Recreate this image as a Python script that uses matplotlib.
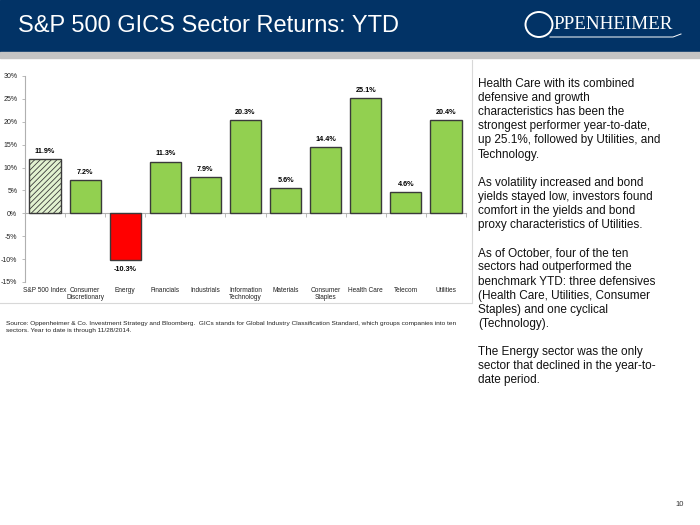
import matplotlib.pyplot as plt
from matplotlib.lines import Line2D
from matplotlib.patches import Rectangle, Ellipse

plt.rcParams['font.family'] = ['Liberation Sans', 'DejaVu Sans']
plt.rcParams['hatch.color'] = '#86c650'
plt.rcParams['hatch.linewidth'] = 0.6

# --- DATA --------------------------- #
sectors = ["S&P 500 Index", "Consumer\nDiscretionary", "Energy", "Financials", "Industrials",
           "Information\nTechnology", "Materials", "Consumer\nStaples", "Health Care",
           "Telecom", "Utilities"]
returns = [11.9, 7.2, -10.3, 11.3, 7.9, 20.3, 5.6, 14.4, 25.1, 4.6, 20.4]
yticks = [-15, -10, -5, 0, 5, 10, 15, 20, 25, 30]
# ------------------------------------ #

fig = plt.figure(figsize=(7, 5.25), dpi=100)

# --- HEADER ------------------------- #
fig.patches.append(Rectangle((0, 1 - 52/525), 1, 52/525, transform=fig.transFigure,
                             color='#023366', zorder=0))
fig.patches.append(Rectangle((0, 1 - 58/525), 1, 6/525, transform=fig.transFigure,
                             color='#c4c4c4', zorder=0))
fig.text(18/700, 1 - 26.5/525, "S&P 500 GICS Sector Returns: YTD", color='white',
         fontsize=17, va='center', ha='left')
# logo: ring + wordmark
fig.patches.append(Ellipse((539/700, 1 - 24.5/525), 27/700, 25/525, transform=fig.transFigure,
                           fill=False, edgecolor='white', lw=1.4))
fig.text(553/700, 1 - 24.5/525, "PPENHEIMER", color='white', fontsize=13.8, va='center',
         ha='left', family='Liberation Serif')
fig.lines.append(Line2D([550/700, 673/700, 681/700], [1 - 37/525, 1 - 37/525, 1 - 34/525],
                        transform=fig.transFigure, color='white', lw=0.7))
# ------------------------------------ #

# --- CHART -------------------------- #
ax = fig.add_axes([25/700, 1 - 282/525, 441/700, 206/525])
x = list(range(len(sectors)))
colors = ['#e2f2d0'] + ['#ff0000' if v < 0 else '#92d050' for v in returns[1:]]
bars = ax.bar(x, returns, width=0.78, color=colors, edgecolor='#3a3a3a', linewidth=1.0, zorder=3)
bars[0].set_hatch('//////')

for xi, v in zip(x, returns):
    if v >= 0:
        ax.text(xi, v + 0.9, f"{v:.1f}%", ha='center', va='bottom', fontsize=5.2,
                fontweight='bold')
    else:
        ax.text(xi, v - 1.1, f"{v:.1f}%", ha='center', va='top', fontsize=5.2,
                fontweight='bold')

for xi, lab in zip(x, sectors):
    ax.text(xi, -0.022, lab, transform=ax.get_xaxis_transform(), ha='center', va='top',
            fontsize=4.7, linespacing=1.1, color='#222222')

ax.set_xlim(-0.5, len(sectors) - 0.5)
ax.set_ylim(-15, 30)
ax.set_yticks(yticks)
ax.set_yticklabels([f"{t}%" for t in yticks], fontsize=5, color='#222222')
ax.tick_params(axis='y', length=2.5, width=0.6, color='#b0b0b0', pad=3)
ax.spines['bottom'].set_position(('data', 0))
ax.spines['bottom'].set_color('#b0b0b0')
ax.spines['bottom'].set_linewidth(0.8)
ax.spines['left'].set_color('#b0b0b0')
ax.spines['left'].set_linewidth(0.8)
ax.spines['top'].set_visible(False)
ax.spines['right'].set_visible(False)
ax.set_xticks([])
ax.set_xticks([i + 0.5 for i in x], minor=True)
ax.tick_params(axis='x', which='minor', length=3, width=0.6, color='#b0b0b0', direction='out',
               labelbottom=False)
ax.set_facecolor('none')
# ------------------------------------ #

# --- FRAME LINES / NOTES ------------ #
fig.lines.append(Line2D([0, 471/700], [1 - 303/525, 1 - 303/525], transform=fig.transFigure,
                        color='#d8d8d8', lw=0.8))
fig.lines.append(Line2D([472/700, 472/700], [1 - 60/525, 1 - 303/525], transform=fig.transFigure,
                        color='#d8d8d8', lw=0.8))

fig.text(6/700, 1 - 321/525,
         "Source: Oppenheimer & Co. Investment Strategy and Bloomberg.  GICs stands for Global Industry "
         "Classification Standard, which groups companies into ten\nsectors. Year to date is through 11/28/2014.",
         fontsize=4.65, va='top', ha='left', linespacing=1.4, color='#222222')

side = ("Health Care with its combined\ndefensive and growth\ncharacteristics has been the\n"
        "strongest performer year-to-date,\nup 25.1%, followed by Utilities, and\nTechnology.\n\n"
        "As volatility increased and bond\nyields stayed low, investors found\ncomfort in the yields and bond\n"
        "proxy characteristics of Utilities.\n\n"
        "As of October, four of the ten\nsectors had outperformed the\nbenchmark YTD: three defensives\n"
        "(Health Care, Utilities, Consumer\nStaples) and one cyclical\n(Technology).\n\n"
        "The Energy sector was the only\nsector that declined in the year-to-\ndate period.")
fig.text(478/700, 1 - 78/525, side, fontsize=8.5, va='top', ha='left', linespacing=1.235, color='#111111')

fig.text(680/700, 1 - 504/525, "10", fontsize=5.5, va='center', ha='center', color='#333333')
# ------------------------------------ #

fig.savefig("out.png", dpi=100)
